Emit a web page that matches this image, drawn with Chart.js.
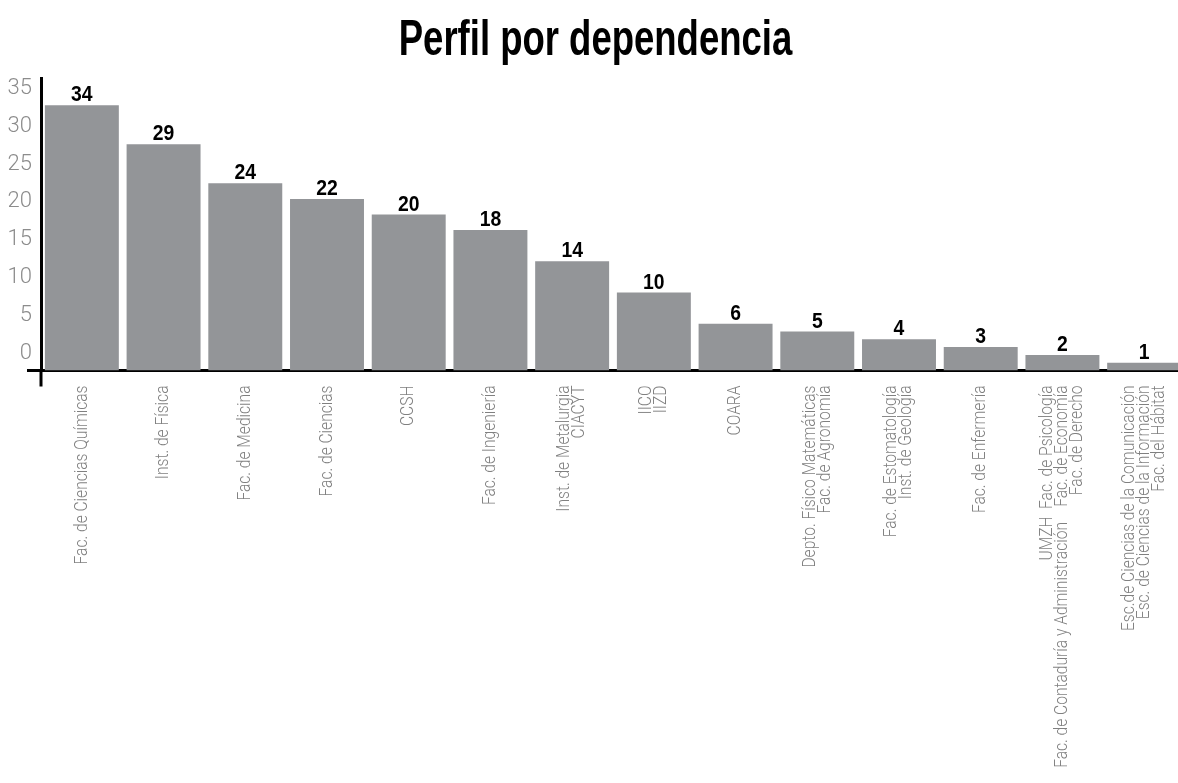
<!DOCTYPE html>
<html>
<head>
<meta charset="utf-8">
<script src="https://cdn.jsdelivr.net/npm/chart.js@4"></script>
<style>
  html, body { margin: 0; padding: 0; background: #fff; overflow: hidden; }
  #wrap { width: 1185px; height: 783px; }
</style>
</head>
<body>
<div id="wrap"><canvas id="chart"></canvas></div>
<script>
// category labels, one array of lines per bar
const categories = [
  ['Fac. de Ciencias Químicas'],
  ['Inst. de Física'],
  ['Fac. de Medicina'],
  ['Fac. de Ciencias'],
  ['CCSH'],
  ['Fac. de Ingeniería'],
  ['Inst. de Metalurgia', 'CIACYT'],
  ['IICO', 'IIZD'],
  ['COARA'],
  ['Depto. Físico Matemáticas', 'Fac. de Agronomía'],
  ['Fac. de Estomatología', 'Inst. de Geología'],
  ['Fac. de Enfermería'],
  ['UMZH  Fac. de Psicología', 'Fac. de Contaduría y Administración    Fac. de Economía', 'Fac. de Derecho'],
  ['Esc.de Ciencias de la Comunicación', 'Esc. de Ciencias de la Información', 'Fac. del Hábitat']
];
const counts = [34, 29, 24, 22, 20, 18, 14, 10, 6, 5, 4, 3, 2, 1];
const yTicks = [0, 5, 10, 15, 20, 25, 30, 35];
const titleText = 'Perfil por dependencia';

const SANS = '"Liberation Sans", Arial, sans-serif';
const LIGHT = 'Roboto, "Liberation Sans", sans-serif';

// the original uses a condensed face, so text is squeezed sideways
function squeezed(ctx, text, x, y, sx, rot) {
  ctx.save();
  ctx.translate(x, y);
  if (rot) ctx.rotate(rot);
  ctx.scale(sx, 1);
  ctx.fillText(text, 0, 0);
  ctx.restore();
}

const titleDraw = {
  id: 'titleDraw',
  afterDraw(chart) {
    const ctx = chart.ctx;
    ctx.save();
    ctx.font = 'bold 50px ' + SANS;
    ctx.fillStyle = '#000';
    ctx.textAlign = 'center';
    ctx.textBaseline = 'alphabetic';
    squeezed(ctx, titleText, chart.width / 2 + 3, 55, 0.73);
    ctx.restore();
  }
};

// numbers above the bars
const valueLabels = {
  id: 'valueLabels',
  afterDatasetsDraw(chart) {
    const ctx = chart.ctx;
    const meta = chart.getDatasetMeta(0);
    ctx.save();
    ctx.font = 'bold 22px ' + SANS;
    ctx.fillStyle = '#000';
    ctx.textAlign = 'center';
    ctx.textBaseline = 'alphabetic';
    meta.data.forEach((bar, i) => squeezed(ctx, String(counts[i]), bar.x, bar.y - 4, 0.88));
    ctx.restore();
  }
};

// rotated category labels, lines centred on the tick
const catLabels = {
  id: 'catLabels',
  afterDraw(chart) {
    const { ctx, chartArea } = chart;
    const xs = chart.scales.x;
    ctx.save();
    ctx.font = '300 19px ' + LIGHT;
    ctx.fillStyle = '#808080';
    ctx.textAlign = 'right';
    ctx.textBaseline = 'middle';
    categories.forEach((lines, i) => {
      const cx = xs.getPixelForValue(i);
      lines.forEach((line, j) => {
        const x = cx + (j - (lines.length - 1) / 2) * 15;
        squeezed(ctx, line, x, chartArea.bottom + 15, 0.82, -Math.PI / 2);
      });
    });
    ctx.restore();
  }
};

// axes cross a little past the origin
const axisCross = {
  id: 'axisCross',
  afterDraw(chart) {
    const { ctx, chartArea } = chart;
    ctx.save();
    ctx.strokeStyle = '#000';
    ctx.lineWidth = 3;
    ctx.beginPath();
    ctx.moveTo(chartArea.left - 14, chartArea.bottom);
    ctx.lineTo(chartArea.left, chartArea.bottom);
    ctx.moveTo(chartArea.left, chartArea.bottom);
    ctx.lineTo(chartArea.left, chartArea.bottom + 16);
    ctx.stroke();
    ctx.restore();
  }
};

new Chart(document.getElementById('chart'), {
  type: 'bar',
  data: {
    labels: categories.map(l => l.join(' ')),
    datasets: [{
      data: counts,
      yAxisID: 'y',
      backgroundColor: '#939598',
      barPercentage: 0.905,
      categoryPercentage: 1
    }]
  },
  options: {
    responsive: true,
    maintainAspectRatio: false,
    animation: false,
    layout: { padding: { top: 78 } },
    plugins: {
      legend: { display: false },
      tooltip: { enabled: false },
      title: { display: false }
    },
    scales: {
      x: {
        grid: { display: false, drawTicks: false },
        ticks: { display: false },
        border: { color: '#000', width: 3 },
        afterFit: s => { s.height = 412.5; }
      },
      y: {
        display: false,
        min: 0,
        max: 37.5
      },
      yTicks: {
        type: 'linear',
        position: 'left',
        min: -2.3,
        max: 36.4,
        grid: { display: false, drawTicks: false },
        border: { color: '#000', width: 3 },
        afterBuildTicks: s => { s.ticks = yTicks.map(v => ({ value: v })); },
        afterFit: s => { s.width = 41; },
        ticks: {
          padding: 9,
          color: '#8c8c8c',
          font: { family: LIGHT, size: 22, weight: 300 }
        }
      }
    }
  },
  plugins: [titleDraw, valueLabels, catLabels, axisCross]
});
</script>
</body>
</html>
